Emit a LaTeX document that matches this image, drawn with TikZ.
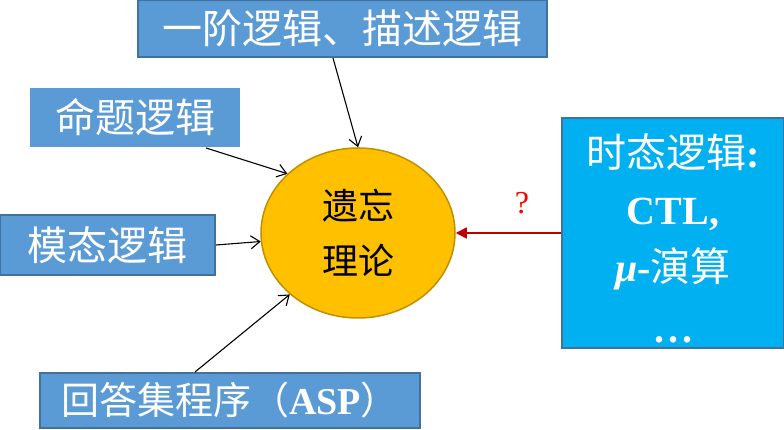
\documentclass[tikz,border=0pt]{standalone}
\usepackage{fontspec}
\setmainfont{Liberation Serif}
\newfontfamily\cjk{Noto Sans CJK SC}
\usetikzlibrary{shapes.geometric,arrows.meta}
\definecolor{boxblue}{HTML}{5B9BD5}
\definecolor{boxline}{HTML}{41719C}
\definecolor{skyblue}{HTML}{00B0F0}
\definecolor{gold}{HTML}{FFC000}
\definecolor{goldline}{HTML}{BF9000}
\definecolor{darkred}{HTML}{C00000}
\tikzset{
  logic/.style={rectangle, fill=boxblue, draw=boxline, line width=2pt, text=white,
    inner sep=0pt, font=\cjk\fontsize{40}{48}\selectfont},
  feed/.style={-{Straight Barb[length=9pt,width=13pt]}, line width=1.1pt, black},
}
\begin{document}
\begin{tikzpicture}[x=1pt,y=1pt]
\useasboundingbox (0,0) rectangle (784,430);
% logics feeding into forgetting
\node[logic, minimum width=409, minimum height=57] (first) at (342.5,401.5){一阶逻辑、描述逻辑};
\node[logic, draw=none, minimum width=210, minimum height=59] (prop) at (135,312.5){命题逻辑};
\node[logic, minimum width=215, minimum height=60] (modal) at (107.5,185){模态逻辑};
\node[logic, minimum width=380, minimum height=55, font=\cjk\fontsize{38}{46}\selectfont] (asp) at (230,29.5){回答集程序（{\rmfamily\bfseries ASP}）};
\node[ellipse, fill=gold, draw=goldline, line width=1.5pt, minimum width=194, minimum height=170,
  inner sep=0pt, align=center, font=\cjk\fontsize{36}{55}\selectfont] (forget) at (358,197){遗忘\\理论};
% temporal logics
\node[logic, fill=skyblue, minimum width=222, minimum height=230] (temp) at (673,197){};
\node[align=center, text=white, font=\fontsize{40}{57}\selectfont] (templabel) at (673,218){{\cjk 时态逻辑}\textbf{:}\\\textbf{CTL,}\\\textbf{\textit{μ}-}{\cjk 演算}};
\node[text=white, font=\bfseries\fontsize{40}{48}\selectfont, inner sep=0pt] (more) at (673,90){.\hspace{4pt}.\hspace{4pt}.};
\node[text=red, font=\fontsize{32}{36}\selectfont] (ask) at (522,227){?};
\draw[feed] ([xshift=-9.5pt]first.south) -- (forget.north);
\draw[feed] ([xshift=-35pt]prop.south east) -- (forget.140);
\draw[feed] (modal.east) -- (forget.185);
\draw[feed] ([xshift=-35pt]asp.north) -- (forget.222);
\draw[-{Triangle[length=11pt,width=11pt]}, darkred, line width=1.5pt] (temp.west) -- (forget.east);
\end{tikzpicture}
\end{document}
